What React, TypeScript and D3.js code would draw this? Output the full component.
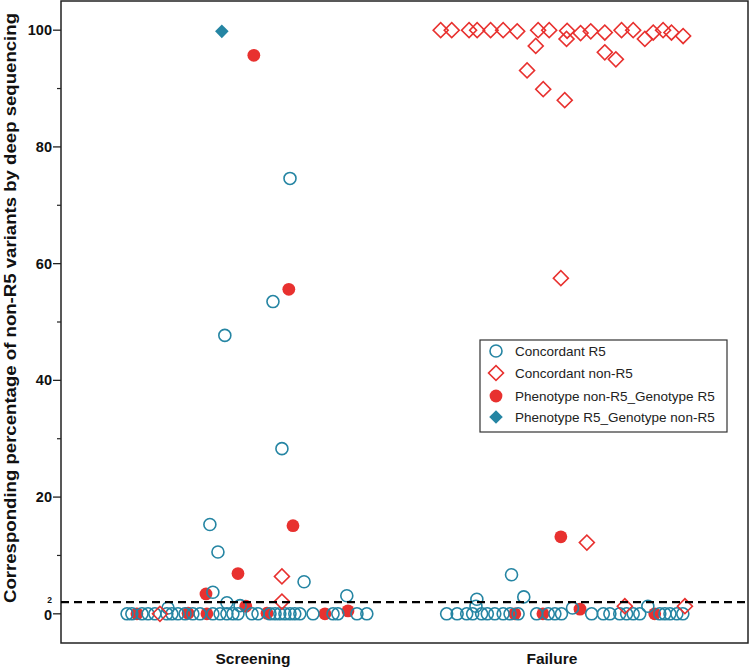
import React from "react";
import * as d3 from "d3";

const categories = ["Screening", "Failure"];
const yMajorTicks = [0, 20, 40, 60, 80, 100];
const yMinorTicks = [10, 30, 50, 70, 90];
const cutoffValue = 2;
const yAxisTitle = "Corresponding percentage of non-R5 variants by deep sequencing";

// Each point: [horizontal jitter within the category, percentage]
const concordantR5Screening: [number, number][] = [
  [0.124, 74.6], [0.067, 53.5], [-0.094, 47.7], [0.097, 28.3], [-0.144, 15.3],
  [-0.117, 10.6], [-0.134, 3.7], [0.171, 5.5], [0.314, 3.1], [-0.087, 1.9],
  [-0.043, 1.4], [-0.284, 1.0],
  [-0.421, 0], [-0.405, 0], [-0.371, 0], [-0.351, 0], [-0.328, 0], [-0.288, 0],
  [-0.271, 0], [-0.251, 0], [-0.227, 0], [-0.201, 0], [-0.177, 0], [-0.134, 0],
  [-0.11, 0], [-0.087, 0], [-0.067, 0], [-0.05, 0], [-0.003, 0], [0.017, 0],
  [0.057, 0], [0.074, 0], [0.09, 0], [0.107, 0], [0.124, 0], [0.14, 0],
  [0.157, 0], [0.201, 0], [0.268, 0], [0.284, 0], [0.348, 0], [0.381, 0],
];
const concordantR5Failure: [number, number][] = [
  [-0.135, 6.7], [-0.251, 2.5], [-0.094, 2.9], [0.069, 1.0], [0.321, 1.3], [-0.254, 1.3],
  [-0.352, 0], [-0.317, 0], [-0.285, 0], [-0.265, 0], [-0.235, 0], [-0.216, 0],
  [-0.191, 0], [-0.163, 0], [-0.14, 0], [-0.113, 0], [-0.051, 0], [-0.012, 0],
  [0.01, 0], [0.032, 0], [0.133, 0], [0.172, 0], [0.194, 0], [0.227, 0],
  [0.25, 0], [0.272, 0], [0.294, 0], [0.361, 0], [0.378, 0], [0.395, 0],
  [0.418, 0], [0.438, 0],
];
const concordantNonR5Screening: [number, number][] = [
  [0.097, 6.4], [0.097, 2.1], [-0.311, 0],
];
const concordantNonR5Failure: [number, number][] = [
  [-0.372, 100], [-0.335, 100], [-0.277, 100], [-0.25, 100], [-0.205, 100],
  [-0.163, 100], [-0.116, 99.8], [-0.046, 100], [-0.009, 100], [-0.054, 97.3],
  [-0.083, 93.1], [-0.029, 89.9], [0.043, 88.0], [0.051, 99.9], [0.049, 98.5],
  [0.096, 99.5], [0.13, 99.8], [0.177, 99.6], [0.177, 96.2], [0.214, 95.0],
  [0.233, 100], [0.272, 100], [0.311, 98.5], [0.339, 99.6], [0.372, 100],
  [0.4, 99.6], [0.439, 99.0], [0.03, 57.5], [0.117, 12.2], [0.244, 1.3], [0.445, 1.3],
];
const phenoNonR5GenoR5Screening: [number, number][] = [
  [0.003, 95.7], [0.12, 55.6], [0.134, 15.1], [-0.05, 6.9], [-0.157, 3.4],
  [-0.024, 1.3], [-0.388, 0], [-0.217, 0.1], [-0.154, 0], [0.047, 0.1],
  [0.241, 0], [0.318, 0.5],
];
const phenoNonR5GenoR5Failure: [number, number][] = [
  [0.03, 13.2], [0.094, 0.8], [-0.124, 0], [-0.03, 0], [0.344, 0],
];
const phenoR5GenoNonR5Screening: [number, number][] = [[-0.104, 99.8]];
const phenoR5GenoNonR5Failure: [number, number][] = [];

const legendLabels = [
  "Concordant R5",
  "Concordant non-R5",
  "Phenotype non-R5_Genotype R5",
  "Phenotype R5_Genotype non-R5",
];

const TEAL = "#2585a3";
const RED = "#e8312f";
const W = 750;
const H = 667;
const plot = { left: 61, right: 748, top: 1, bottom: 643 };

const x = d3.scaleLinear().domain([-0.642, 1.656]).range([plot.left, plot.right]);
const y = d3.scaleLinear().domain([-5, 105]).range([plot.bottom, plot.top]);

const diamondPath = d3.symbol().type(d3.symbolSquare).size(112)()!;
const smallDiamondPath = d3.symbol().type(d3.symbolSquare).size(92)()!;

type Pt = { cat: number; dx: number; v: number };
const pts = (cat: number, arr: [number, number][]): Pt[] =>
  arr.map(([dx, v]) => ({ cat, dx, v }));

const seriesR5 = [...pts(0, concordantR5Screening), ...pts(1, concordantR5Failure)];
const seriesNonR5 = [...pts(0, concordantNonR5Screening), ...pts(1, concordantNonR5Failure)];
const seriesPhenoNon = [...pts(0, phenoNonR5GenoR5Screening), ...pts(1, phenoNonR5GenoR5Failure)];
const seriesPhenoR5 = [...pts(0, phenoR5GenoNonR5Screening), ...pts(1, phenoR5GenoNonR5Failure)];

const px = (p: Pt) => x(p.cat + p.dx);
const py = (p: Pt) => y(p.v);

function Marker({ kind, cx, cy }: { kind: number; cx: number; cy: number }) {
  if (kind === 0)
    return <circle cx={cx} cy={cy} r={6} fill="none" stroke={TEAL} strokeWidth={1.6} />;
  if (kind === 1)
    return (
      <path d={diamondPath} transform={`translate(${cx},${cy}) rotate(45)`} fill="none" stroke={RED} strokeWidth={1.6} />
    );
  if (kind === 2) return <circle cx={cx} cy={cy} r={6.4} fill={RED} />;
  return <path d={smallDiamondPath} transform={`translate(${cx},${cy}) rotate(45)`} fill={TEAL} />;
}

export default function App() {
  const font = "'Liberation Sans', Arial, sans-serif";
  const legend = { x: 480, y: 340, w: 247, h: 92 };
  const legendRows = [351, 373, 396, 417];
  return (
    <svg
      width={W}
      height={H}
      style={{ position: "absolute", left: 0, top: 0, display: "block", background: "#fff" }}
      fontFamily={font}
    >
      {/* frame */}
      <rect
        x={plot.left}
        y={plot.top}
        width={plot.right - plot.left}
        height={plot.bottom - plot.top}
        fill="none"
        stroke="#222"
        strokeWidth={1.5}
      />
      {/* y ticks */}
      {yMajorTicks.map((t) => (
        <g key={"M" + t}>
          <line x1={plot.left - 8} x2={plot.left} y1={y(t)} y2={y(t)} stroke="#222" strokeWidth={1.3} />
          <text
            x={plot.left - 9}
            y={y(t) + (t === 0 ? 1.5 : 0)}
            textAnchor="end"
            dominantBaseline="central"
            fontSize={14.5}
            fontWeight="bold"
            fill="#111"
          >
            {t}
          </text>
        </g>
      ))}
      {yMinorTicks.map((t) => (
        <line key={"m" + t} x1={plot.left - 4} x2={plot.left} y1={y(t)} y2={y(t)} stroke="#222" strokeWidth={1.2} />
      ))}
      <text
        x={plot.left - 9}
        y={y(cutoffValue) - 2.5}
        textAnchor="end"
        dominantBaseline="central"
        fontSize={8.5}
        fontWeight="bold"
        fill="#111"
      >
        {cutoffValue}
      </text>
      {/* y title */}
      <text
        transform={`translate(16,${308}) rotate(-90)`}
        textAnchor="middle"
        fontSize={16}
        fontWeight="bold"
        fill="#111"
        textLength={590}
        lengthAdjust="spacingAndGlyphs"
      >
        {yAxisTitle}
      </text>
      {/* x labels */}
      {categories.map((c, i) => (
        <text key={c} x={x(i)} y={664} textAnchor="middle" fontSize={15.5} fontWeight="bold" fill="#111">
          {c}
        </text>
      ))}
      {/* markers */}
      {seriesPhenoNon.map((p, i) => (
        <Marker key={"p" + i} kind={2} cx={px(p)} cy={py(p)} />
      ))}
      {seriesR5.map((p, i) => (
        <Marker key={"c" + i} kind={0} cx={px(p)} cy={py(p)} />
      ))}
      {seriesNonR5.map((p, i) => (
        <Marker key={"d" + i} kind={1} cx={px(p)} cy={py(p)} />
      ))}
      {seriesPhenoR5.map((p, i) => (
        <Marker key={"t" + i} kind={3} cx={px(p)} cy={py(p)} />
      ))}
      {/* cutoff dashed line */}
      <line
        x1={plot.left}
        x2={plot.right}
        y1={y(cutoffValue)}
        y2={y(cutoffValue)}
        stroke="#000"
        strokeWidth={2.2}
        strokeDasharray="8,5"
      />
      {/* legend */}
      <rect x={legend.x} y={legend.y} width={legend.w} height={legend.h} fill="#fff" stroke="#333" strokeWidth={1.2} />
      {legendLabels.map((l, i) => (
        <g key={l}>
          <Marker kind={i} cx={496} cy={legendRows[i]} />
          <text x={515} y={legendRows[i]} dominantBaseline="central" fontSize={13.5} fill="#222">
            {l}
          </text>
        </g>
      ))}
    </svg>
  );
}
